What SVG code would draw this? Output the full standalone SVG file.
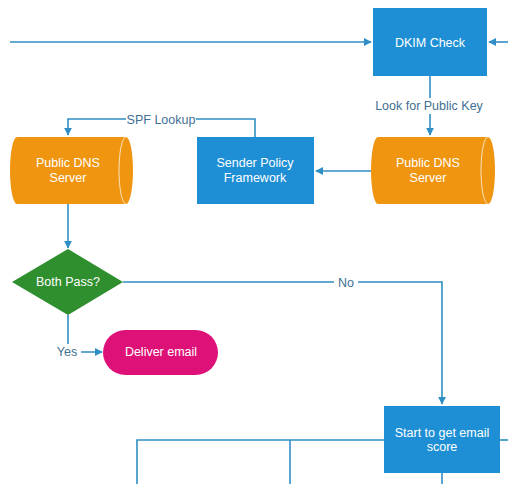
<svg xmlns="http://www.w3.org/2000/svg" width="508" height="484" viewBox="0 0 508 484">
<style>
.box{fill:#1e8fd5}
.cyl{fill:#f0950f}
.inner{fill:none;stroke:#fbe3bd;stroke-width:1}
.t{font-family:"Liberation Sans",Arial,sans-serif;font-size:12.5px;fill:#ffffff;text-anchor:middle}
.lbl{font-family:"Liberation Sans",Arial,sans-serif;font-size:12.5px;fill:#3f6f93;text-anchor:middle}
.c{fill:none;stroke:#2f8fc4;stroke-width:1.6}
.bg{fill:#ffffff}
</style>
<defs>
<marker id="ah" viewBox="0 0 10 10" refX="9" refY="5" markerWidth="5" markerHeight="5" orient="auto" markerUnits="strokeWidth">
<path d="M0,0 L10,5 L0,10 Z" fill="#2f8fc4"/>
</marker>
</defs>
<rect width="508" height="484" fill="#ffffff"/>
<g id="connectors">
<path class="c" d="M10,42 L371,42" marker-end="url(#ah)"/>
<path class="c" d="M508,42 L489,42" marker-end="url(#ah)"/>
<path class="c" d="M430,76 L430,135" marker-end="url(#ah)"/>
<path class="c" d="M371,171 L316,171" marker-end="url(#ah)"/>
<path class="c" d="M255,137 L255,119 L68,119 L68,135" marker-end="url(#ah)"/>
<path class="c" d="M68,204 L68,248" marker-end="url(#ah)"/>
<path class="c" d="M123,282 L442,282 L442,404" marker-end="url(#ah)"/>
<path class="c" d="M68,315 L68,352 L102,352" marker-end="url(#ah)"/>
<path class="c" d="M384,440 L137,440 L137,484"/>
<path class="c" d="M290,440 L290,484"/>
<path class="c" d="M500,440 L508,440"/>
<path class="c" d="M442,473 L442,484"/>
<rect class="bg" x="126" y="111" width="70" height="16"/>
<text class="lbl" x="161" y="123.5">SPF Lookup</text>
<rect class="bg" x="372" y="98" width="114" height="16"/>
<text class="lbl" x="429" y="110">Look for Public Key</text>
<rect class="bg" x="334" y="275" width="24" height="16"/>
<text class="lbl" x="346" y="287">No</text>
<rect class="bg" x="54" y="344" width="27" height="16"/>
<text class="lbl" x="67" y="356">Yes</text>
</g>
<g id="dkim">
<rect class="box" x="373" y="8" width="114" height="68"/>
<text class="t" x="430" y="46.5">DKIM Check</text>
</g>
<g id="dns-right">
<path class="cyl" d="M378,137 L488,137 A7,33.5 0 0 1 488,204 L378,204 A7,33.5 0 0 1 378,137 Z"/>
<path class="inner" d="M488,137 A7,33.5 0 0 0 488,204"/>
<text class="t" x="428" y="167">Public DNS</text>
<text class="t" x="428" y="182">Server</text>
</g>
<g id="spf">
<rect class="box" x="197" y="137" width="117" height="67"/>
<text class="t" x="255" y="167">Sender Policy</text>
<text class="t" x="255" y="182">Framework</text>
</g>
<g id="dns-left">
<path class="cyl" d="M17,137 L126,137 A7,33.5 0 0 1 126,204 L17,204 A7,33.5 0 0 1 17,137 Z"/>
<path class="inner" d="M126,137 A7,33.5 0 0 0 126,204"/>
<text class="t" x="68" y="167">Public DNS</text>
<text class="t" x="68" y="182">Server</text>
</g>
<g id="decision">
<polygon points="68,249 123,282 68,315 12,282" fill="#2f8f2f"/>
<text class="t" x="68" y="286">Both Pass?</text>
</g>
<g id="deliver">
<rect x="103" y="330" width="115" height="45" rx="22.5" fill="#dd1177"/>
<text class="t" x="161" y="356">Deliver email</text>
</g>
<g id="score">
<rect class="box" x="384" y="406" width="116" height="67"/>
<text class="t" x="442" y="436.5">Start to get email</text>
<text class="t" x="442" y="451">score</text>
</g>
</svg>
